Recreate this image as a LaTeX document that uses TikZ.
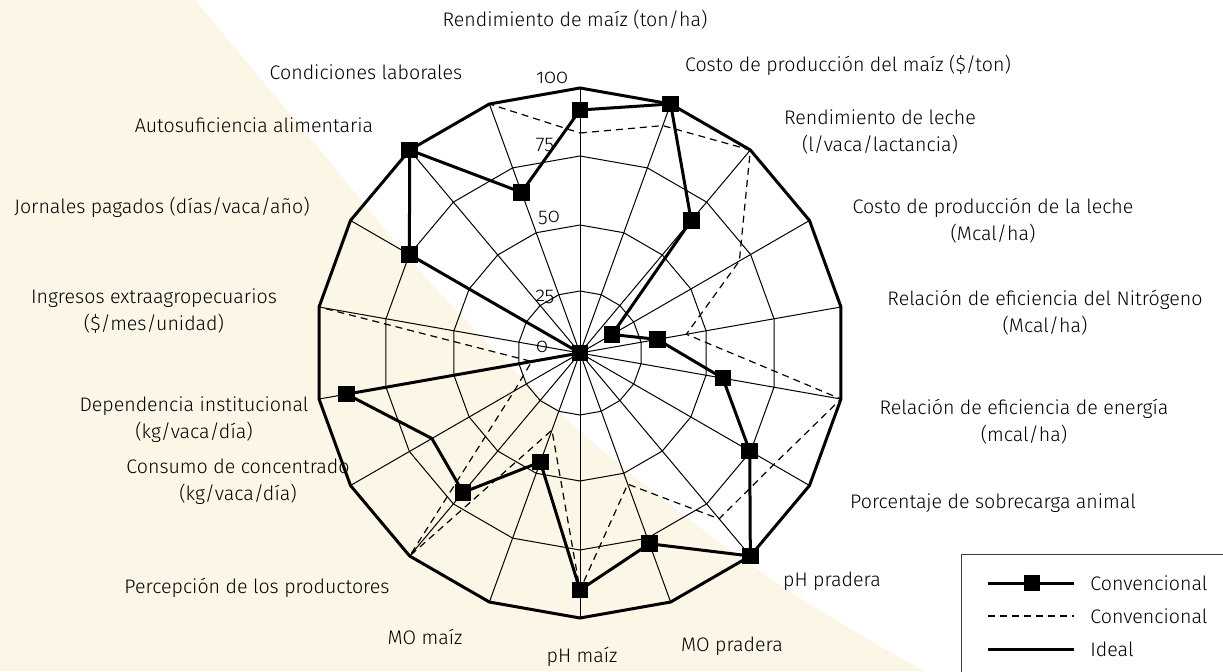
\documentclass[tikz,border=0pt]{standalone}
\usepackage{fontspec}
\IfFontExistsTF{Fira Sans Book}{\setmainfont{Fira Sans Book}}{\setmainfont{Fira Sans Light}}
\usetikzlibrary{calc}
\definecolor{crema}{RGB}{252,246,230}

\begin{document}
\begin{tikzpicture}[
    x=0.5pt, y=-0.5pt,
    etiqueta/.style={align=center, inner sep=0pt, font=\fontsize{9.8}{13.5}\selectfont},
    escala/.style={inner sep=0pt, font=\fontsize{10}{12}\selectfont\addfontfeatures{Numbers=OldStyle}},
    radio/.style={line width=0.5pt},
    anillo/.style={line width=0.5pt},
    ideal/.style={line width=1.5pt, line join=miter},
    conv/.style={line width=1.5pt, line join=miter},
    convdash/.style={line width=0.6pt, dash pattern=on 3.5pt off 2.5pt},
    marca/.style={rectangle, fill=black, inner sep=0pt, minimum size=8.3pt}
]
\useasboundingbox (0,0) rectangle (1223,671);

% fondo
\fill[white] (0,0) rectangle (1223,671);
\fill[crema] (0,0) -- plot[smooth, tension=0.6] coordinates {(195,0) (320,150) (440,293) (590,440) (773,580) (924,671)} -- (0,671) -- cycle;

\begin{scope}[shift={(580,353)}]
\coordinate (o) at (0,0);

% radios y anillos
\foreach \i in {0,...,17}
    \draw[radio] (o) -- ({\i*20-90}:265);
\foreach \r in {62,128,197}
    \draw[anillo] (-90:\r) \foreach \i in {1,...,17} {-- ({\i*20-90}:\r)} -- cycle;

% Convencional (discontinua)
\foreach \v [count=\i from 0] in {220,242,265,184,108,265,223.5,216.5,139.6,237,82,265,76,49,265,265,265,265}
    \coordinate (d\i) at ({\i*20-90}:\v);
\draw[convdash] (d0) \foreach \i in {1,...,17} {-- (d\i)} -- cycle;

% Ideal
\draw[ideal] (-90:265) \foreach \i in {1,...,17} {-- ({\i*20-90}:265)} -- cycle;

% Convencional (con marcas)
\foreach \v [count=\i from 0] in {243,265,173,37,78.5,145,196,265,203,237,116,182,171,237,0,197,265,171}
    \coordinate (c\i) at ({\i*20-90}:\v);
\draw[conv] (c0) \foreach \i in {1,...,17} {-- (c\i)} -- cycle;
\foreach \i in {0,1,2,3,4,5,6,7,8,9,10,11,13,14,15,16,17}
    \node[marca] (m\i) at (c\i) {};
\end{scope}

% escala
\node[escala] (e100) at (552,78) {100};
\node[escala] (e75) at (545,145) {75};
\node[escala] (e50) at (549,218) {50};
\node[escala] (e25) at (545,297) {25};
\node[escala] (e0) at (542,347) {0};

% etiquetas de los ejes
\node[etiqueta] (lRendMaiz) at (575,20) {Rendimiento de maíz (ton/ha)};
\node[etiqueta] (lCostoMaiz) at (848,65) {Costo de producción del maíz (\$/ton)};
\node[etiqueta] (lRendLeche) at (880,132) {Rendimiento de leche\\(l/vaca/lactancia)};
\node[etiqueta] (lCostoLeche) at (993,221) {Costo de producción de la leche\\(Mcal/ha)};
\node[etiqueta] (lNitro) at (1045,313) {Relación de eficiencia del Nitrógeno\\(Mcal/ha)};
\node[etiqueta] (lEnergia) at (1024,422) {Relación de eficiencia de energía\\(mcal/ha)};
\node[etiqueta] (lSobrecarga) at (993,503) {Porcentaje de sobrecarga animal};
\node[etiqueta] (lpHPradera) at (832,581) {pH pradera};
\node[etiqueta] (lMOPradera) at (732,646) {MO pradera};
\node[etiqueta] (lpHMaiz) at (582,657) {pH maíz};
\node[etiqueta] (lMOMaiz) at (425,637) {MO maíz};
\node[etiqueta] (lPercepcion) at (257,588) {Percepción de los productores};
\node[etiqueta] (lConsumo) at (238,482) {Consumo de concentrado\\(kg/vaca/día)};
\node[etiqueta] (lDependencia) at (194,420) {Dependencia institucional\\(kg/vaca/día)};
\node[etiqueta] (lIngresos) at (154,311) {Ingresos extraagropecuarios\\(\$/mes/unidad)};
\node[etiqueta] (lJornales) at (162,207) {Jornales pagados (días/vaca/año)};
\node[etiqueta] (lAutosuf) at (254,125) {Autosuficiencia alimentaria};
\node[etiqueta] (lCondiciones) at (366,72) {Condiciones laborales};

% leyenda
\draw[line width=0.5pt, black!75] (961,554) rectangle (1240,690);
\coordinate (lg1a) at (988,583); \coordinate (lg1b) at (1074,583);
\coordinate (lg2a) at (988,616); \coordinate (lg2b) at (1074,616);
\coordinate (lg3a) at (988,649); \coordinate (lg3b) at (1074,649);
\draw[conv] (lg1a) -- (lg1b);
\node[marca] (lgm) at (1032,583) {};
\draw[convdash] (lg2a) -- (lg2b);
\draw[ideal] (lg3a) -- (lg3b);
\node[etiqueta, anchor=west] (lgt1) at (1090,583) {Convencional};
\node[etiqueta, anchor=west] (lgt2) at (1090,616) {Convencional};
\node[etiqueta, anchor=west] (lgt3) at (1090,649) {Ideal};
\end{tikzpicture}
\end{document}
